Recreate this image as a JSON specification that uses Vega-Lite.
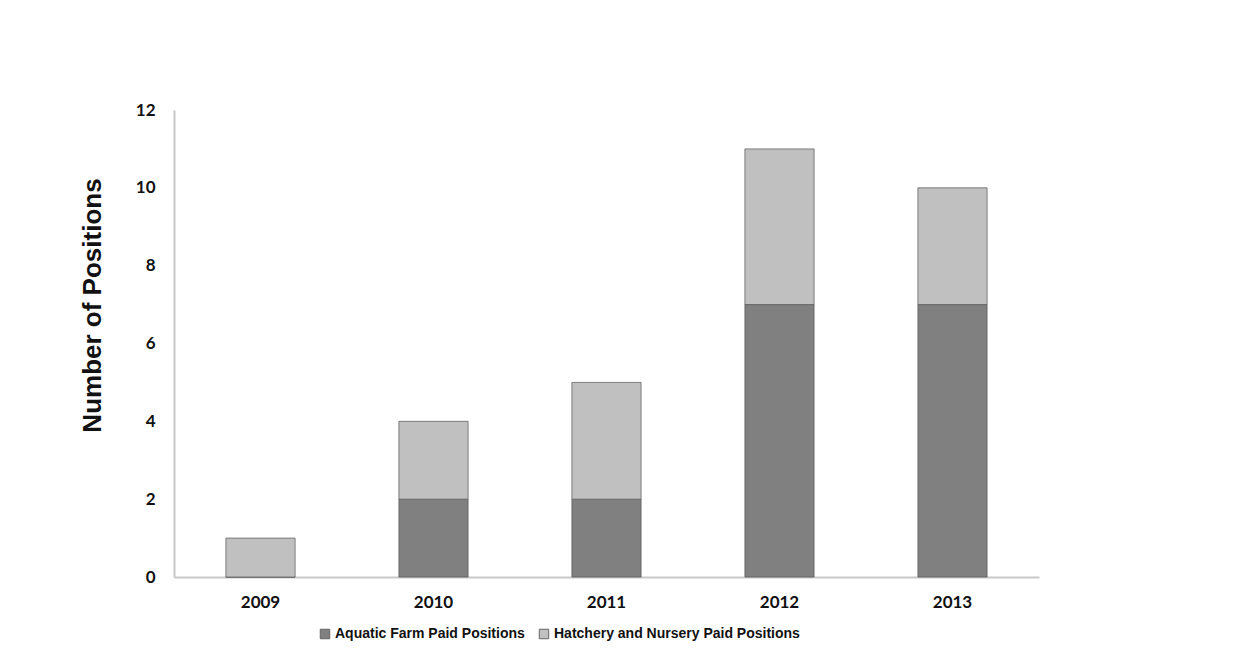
{
  "$schema": "https://vega.github.io/schema/vega-lite/v6.json",
  "autosize": {"type": "none"},
  "padding": {"left": 174, "top": 110, "right": 218, "bottom": 82},
  "width": 865,
  "height": 467,
  "background": "white",
  "data": {
    "values": [
      {"year": "2009", "series": "Aquatic Farm Paid Positions", "positions": 0},
      {"year": "2009", "series": "Hatchery and Nursery Paid Positions", "positions": 1},
      {"year": "2010", "series": "Aquatic Farm Paid Positions", "positions": 2},
      {"year": "2010", "series": "Hatchery and Nursery Paid Positions", "positions": 2},
      {"year": "2011", "series": "Aquatic Farm Paid Positions", "positions": 2},
      {"year": "2011", "series": "Hatchery and Nursery Paid Positions", "positions": 3},
      {"year": "2012", "series": "Aquatic Farm Paid Positions", "positions": 7},
      {"year": "2012", "series": "Hatchery and Nursery Paid Positions", "positions": 4},
      {"year": "2013", "series": "Aquatic Farm Paid Positions", "positions": 7},
      {"year": "2013", "series": "Hatchery and Nursery Paid Positions", "positions": 3}
    ]
  },
  "mark": {"type": "bar", "stroke": "#555555", "strokeOpacity": 0.7, "strokeWidth": 1},
  "encoding": {
    "x": {
      "field": "year",
      "type": "ordinal",
      "scale": {"paddingInner": 0.6, "paddingOuter": 0.3},
      "axis": {
        "title": null,
        "labelAngle": 0,
        "ticks": false,
        "domainColor": "#c8c8c8",
        "domainWidth": 2,
        "labelFont": "Lato",
        "labelFontWeight": "bold",
        "labelFontSize": 17,
        "labelColor": "#111111",
        "labelPadding": 17
      }
    },
    "y": {
      "field": "positions",
      "type": "quantitative",
      "stack": "zero",
      "scale": {"domain": [0, 12], "nice": false},
      "axis": {
        "title": "Number of Positions",
        "titleFont": "Liberation Sans",
        "titleFontWeight": "bold",
        "titleFontSize": 26,
        "titleColor": "#111111",
        "titleAngle": -90,
        "titleAlign": "center",
        "titleBaseline": "middle",
        "titleX": -82,
        "titleY": 195,
        "values": [0, 2, 4, 6, 8, 10, 12],
        "grid": false,
        "ticks": false,
        "domainColor": "#c8c8c8",
        "domainWidth": 2,
        "labelFont": "Lato",
        "labelFontWeight": "bold",
        "labelFontSize": 17,
        "labelColor": "#111111",
        "labelPadding": 19
      }
    },
    "color": {
      "field": "series",
      "type": "nominal",
      "scale": {
        "domain": ["Aquatic Farm Paid Positions", "Hatchery and Nursery Paid Positions"],
        "range": ["#808080", "#c0c0c0"]
      },
      "legend": {
        "title": null,
        "orient": "none",
        "direction": "horizontal",
        "legendX": 144,
        "legendY": 517,
        "symbolType": "square",
        "symbolSize": 90,
        "symbolStrokeColor": "#666666",
        "symbolStrokeWidth": 1,
        "labelFont": "Liberation Sans",
        "labelFontWeight": "bold",
        "labelFontSize": 14,
        "labelColor": "#111111",
        "labelOffset": 3,
        "columnPadding": 12,
        "labelLimit": 400
      }
    },
    "order": {"field": "series", "sort": "ascending"}
  },
  "config": {"view": {"stroke": null}}
}
